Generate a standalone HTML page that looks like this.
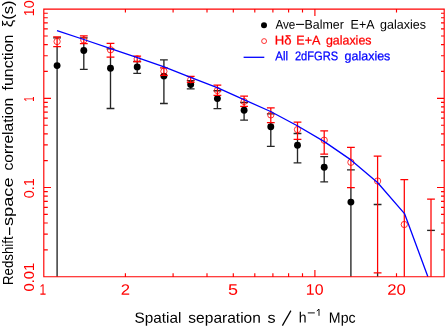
<!DOCTYPE html><html><head><meta charset="utf-8"><style>html,body{margin:0;padding:0;background:#fff}svg{display:block;will-change:transform}text{font-family:"Liberation Sans",sans-serif}</style></head><body>
<svg width="446" height="327" viewBox="0 0 446 327">
<rect width="446" height="327" fill="#fff"/>
<path d="M57.1 46.7V276.7M53.2 37.9H61.0" stroke="#262626" stroke-width="1.35" fill="none"/>
<circle cx="57.1" cy="65.6" r="3.45" fill="#000"/>
<path d="M83.8 43.6V69.4M79.9 37.9H87.7M79.9 69.4H87.7" stroke="#262626" stroke-width="1.35" fill="none"/>
<circle cx="83.8" cy="50.5" r="3.45" fill="#000"/>
<path d="M110.5 57.1V108.5M106.6 48.8H114.4M106.6 108.5H114.4" stroke="#262626" stroke-width="1.35" fill="none"/>
<circle cx="110.5" cy="68.2" r="3.45" fill="#000"/>
<path d="M137.2 61.6V73.4M133.3 61.5H141.1M133.3 73.4H141.1" stroke="#262626" stroke-width="1.35" fill="none"/>
<circle cx="137.2" cy="66.9" r="3.45" fill="#000"/>
<path d="M163.9 59.8V67.9M163.9 75.4V103.5M160.0 59.8H167.8M160.0 103.5H167.8" stroke="#262626" stroke-width="1.35" fill="none"/>
<circle cx="163.9" cy="76.1" r="3.45" fill="#000"/>
<path d="M190.7 82.3V88.8M186.8 80.6H194.6M186.8 88.8H194.6" stroke="#262626" stroke-width="1.35" fill="none"/>
<circle cx="190.7" cy="84.5" r="3.45" fill="#000"/>
<path d="M217.4 95.4V108.6M213.5 90.7H221.3M213.5 108.6H221.3" stroke="#262626" stroke-width="1.35" fill="none"/>
<circle cx="217.4" cy="98.6" r="3.45" fill="#000"/>
<path d="M244.1 106.4V120.1M240.2 102.5H248.0M240.2 120.1H248.0" stroke="#262626" stroke-width="1.35" fill="none"/>
<circle cx="244.1" cy="110.3" r="3.45" fill="#000"/>
<path d="M270.8 122.7V146.3M266.9 113.9H274.7M266.9 146.3H274.7" stroke="#262626" stroke-width="1.35" fill="none"/>
<circle cx="270.8" cy="126.8" r="3.45" fill="#000"/>
<path d="M297.5 139.3V162.8M293.6 133.5H301.4M293.6 162.8H301.4" stroke="#262626" stroke-width="1.35" fill="none"/>
<circle cx="297.5" cy="145.3" r="3.45" fill="#000"/>
<path d="M324.2 156.6V181.8M320.3 156.6H328.1M320.3 181.8H328.1" stroke="#262626" stroke-width="1.35" fill="none"/>
<circle cx="324.2" cy="167.3" r="3.45" fill="#000"/>
<path d="M350.9 187.7V276.7M347.0 169.8H354.8" stroke="#262626" stroke-width="1.35" fill="none"/>
<circle cx="350.9" cy="202.1" r="3.45" fill="#000"/>
<path d="M377.6 272.9V276.7M373.7 204.5H381.5" stroke="#262626" stroke-width="1.35" fill="none"/>
<path d="M427.1 230.4H434.9" stroke="#262626" stroke-width="1.35" fill="none"/>
<path d="M57.1 36.9V46.7M53.2 36.9H61.0M53.2 46.7H61.0" stroke="#f00" stroke-width="1.25" fill="none"/>
<circle cx="57.1" cy="41.5" r="3.15" fill="none" stroke="#f00" stroke-width="0.8"/>
<path d="M83.8 35.9V43.6M79.9 35.9H87.7M79.9 43.6H87.7" stroke="#f00" stroke-width="1.25" fill="none"/>
<circle cx="83.8" cy="40.0" r="3.15" fill="none" stroke="#f00" stroke-width="0.8"/>
<path d="M110.5 43.3V57.1M106.6 43.3H114.4M106.6 57.1H114.4" stroke="#f00" stroke-width="1.25" fill="none"/>
<circle cx="110.5" cy="49.8" r="3.15" fill="none" stroke="#f00" stroke-width="0.8"/>
<path d="M137.2 56.1V61.6M133.3 56.1H141.1M133.3 61.6H141.1" stroke="#f00" stroke-width="1.25" fill="none"/>
<circle cx="137.2" cy="58.9" r="3.15" fill="none" stroke="#f00" stroke-width="0.8"/>
<path d="M163.9 67.9V75.4M160.0 67.9H167.8M160.0 75.4H167.8" stroke="#f00" stroke-width="1.25" fill="none"/>
<circle cx="163.9" cy="71.3" r="3.15" fill="none" stroke="#f00" stroke-width="0.8"/>
<path d="M190.7 76.4V82.3M186.8 76.4H194.6M186.8 82.3H194.6" stroke="#f00" stroke-width="1.25" fill="none"/>
<circle cx="190.7" cy="79.8" r="3.15" fill="none" stroke="#f00" stroke-width="0.8"/>
<path d="M217.4 85.2V95.4M213.5 85.2H221.3M213.5 95.4H221.3" stroke="#f00" stroke-width="1.25" fill="none"/>
<circle cx="217.4" cy="90.5" r="3.15" fill="none" stroke="#f00" stroke-width="0.8"/>
<path d="M244.1 96.2V106.4M240.2 96.2H248.0M240.2 106.4H248.0" stroke="#f00" stroke-width="1.25" fill="none"/>
<circle cx="244.1" cy="101.5" r="3.15" fill="none" stroke="#f00" stroke-width="0.8"/>
<path d="M270.8 107.9V122.7M266.9 107.9H274.7M266.9 122.7H274.7" stroke="#f00" stroke-width="1.25" fill="none"/>
<circle cx="270.8" cy="114.9" r="3.15" fill="none" stroke="#f00" stroke-width="0.8"/>
<path d="M297.5 122.2V139.3M293.6 122.2H301.4M293.6 139.3H301.4" stroke="#f00" stroke-width="1.25" fill="none"/>
<circle cx="297.5" cy="129.6" r="3.15" fill="none" stroke="#f00" stroke-width="0.8"/>
<path d="M324.2 130.8V154.1M320.3 130.8H328.1M320.3 154.1H328.1" stroke="#f00" stroke-width="1.25" fill="none"/>
<circle cx="324.2" cy="140.2" r="3.15" fill="none" stroke="#f00" stroke-width="0.8"/>
<path d="M350.9 147.3V187.7M347.0 147.3H354.8M347.0 187.7H354.8" stroke="#f00" stroke-width="1.25" fill="none"/>
<circle cx="350.9" cy="162.3" r="3.15" fill="none" stroke="#f00" stroke-width="0.8"/>
<path d="M377.6 156.0V272.9M373.7 156.0H381.5M373.7 272.9H381.5" stroke="#f00" stroke-width="1.25" fill="none"/>
<circle cx="377.6" cy="181.0" r="3.15" fill="none" stroke="#f00" stroke-width="0.8"/>
<path d="M404.3 179.6V276.7M400.4 179.6H408.2" stroke="#f00" stroke-width="1.25" fill="none"/>
<circle cx="404.3" cy="224.5" r="3.15" fill="none" stroke="#f00" stroke-width="0.8"/>
<path d="M431.0 199.1V276.7M427.1 199.1H434.9" stroke="#f00" stroke-width="1.25" fill="none"/>
<polyline points="57.0,30.7 83.8,39.5 110.7,48.7 137.4,57.7 164.1,66.8 190.6,77.3 217.2,87.7 243.9,99.6 270.6,111.5 297.3,125.7 324.3,141.6 350.9,159.9 377.5,182.5 404.5,213.6 427.9,276.7" fill="none" stroke="#00f" stroke-width="1.3" stroke-linejoin="round"/>
<circle cx="264" cy="25.15" r="3.0" fill="#000"/>
<circle cx="264.1" cy="41.1" r="2.45" fill="none" stroke="#f00" stroke-width="0.8"/>
<path d="M243.6 57.3H264.3" stroke="#00f" stroke-width="1.3"/>
<text transform="translate(275.39 28.70) rotate(-0.05)" font-size="12.6" fill="#000" textLength="20.02" lengthAdjust="spacingAndGlyphs">Ave</text>
<text transform="translate(304.47 28.70) rotate(-0.05)" font-size="12.6" fill="#000" textLength="39.30" lengthAdjust="spacingAndGlyphs">Balmer</text>
<text transform="translate(350.61 28.70) rotate(-0.05)" font-size="12.6" fill="#000" textLength="23.93" lengthAdjust="spacingAndGlyphs">E+A</text>
<text transform="translate(379.96 28.70) rotate(-0.05)" font-size="12.6" fill="#000" textLength="45.97" lengthAdjust="spacingAndGlyphs">galaxies</text>
<text transform="translate(274.67 44.50) rotate(-0.05)" font-size="12.6" fill="#f00" stroke="#f00" stroke-width="0.25" textLength="16.82" lengthAdjust="spacingAndGlyphs">Hδ</text>
<text transform="translate(296.33 44.50) rotate(-0.05)" font-size="12.6" fill="#f00" stroke="#f00" stroke-width="0.25" textLength="24.06" lengthAdjust="spacingAndGlyphs">E+A</text>
<text transform="translate(325.91 44.50) rotate(-0.05)" font-size="12.6" fill="#f00" stroke="#f00" stroke-width="0.25" textLength="45.61" lengthAdjust="spacingAndGlyphs">galaxies</text>
<text transform="translate(275.35 60.30) rotate(-0.05)" font-size="12.6" fill="#00f" stroke="#00f" stroke-width="0.25" textLength="12.84" lengthAdjust="spacingAndGlyphs">All</text>
<text transform="translate(294.90 60.30) rotate(-0.05)" font-size="12.6" fill="#00f" stroke="#00f" stroke-width="0.25" textLength="43.24" lengthAdjust="spacingAndGlyphs">2dFGRS</text>
<text transform="translate(344.58 60.30) rotate(-0.05)" font-size="12.6" fill="#00f" stroke="#00f" stroke-width="0.25" textLength="45.78" lengthAdjust="spacingAndGlyphs">galaxies</text>
<text transform="translate(134.45 322.70) rotate(-0.05)" font-size="14.8" fill="#000" textLength="46.92" lengthAdjust="spacingAndGlyphs">Spatial</text>
<text transform="translate(188.36 322.70) rotate(-0.05)" font-size="14.8" fill="#000" textLength="72.53" lengthAdjust="spacingAndGlyphs">separation</text>
<text transform="translate(267.43 322.70) rotate(-0.05)" font-size="14.8" fill="#000" textLength="8.11" lengthAdjust="spacingAndGlyphs">s</text>
<text transform="translate(298.84 322.60) rotate(-0.05)" font-size="14.8" fill="#000" textLength="7.84" lengthAdjust="spacingAndGlyphs">h</text>
<text transform="translate(328.85 322.70) rotate(-0.05)" font-size="14.8" fill="#000" textLength="26.77" lengthAdjust="spacingAndGlyphs">Mpc</text>
<text transform="translate(13.2 285.00) rotate(-90)" font-size="14.8" fill="#000" textLength="48.57" lengthAdjust="spacingAndGlyphs">Redshift</text>
<text transform="translate(13.2 226.04) rotate(-90)" font-size="14.8" fill="#000" textLength="48.69" lengthAdjust="spacingAndGlyphs">space</text>
<text transform="translate(13.2 170.42) rotate(-90)" font-size="14.8" fill="#000" textLength="72.66" lengthAdjust="spacingAndGlyphs">correlation</text>
<text transform="translate(13.2 90.51) rotate(-90)" font-size="14.8" fill="#000" textLength="55.91" lengthAdjust="spacingAndGlyphs">function</text>
<text transform="translate(13.2 27.21) rotate(-90)" font-size="14.8" fill="#000" textLength="26.87" lengthAdjust="spacingAndGlyphs">ξ(s)</text>
<text transform="translate(39.57 294.80) rotate(-0.05)" font-size="15.2" fill="#f00" textLength="6.70" lengthAdjust="spacingAndGlyphs">1</text>
<text transform="translate(120.87 294.80) rotate(-0.05)" font-size="15.2" fill="#f00" textLength="9.34" lengthAdjust="spacingAndGlyphs">2</text>
<text transform="translate(228.10 294.80) rotate(-0.05)" font-size="15.2" fill="#f00" textLength="10.04" lengthAdjust="spacingAndGlyphs">5</text>
<text transform="translate(305.81 294.80) rotate(-0.05)" font-size="15.2" fill="#f00" textLength="17.67" lengthAdjust="spacingAndGlyphs">10</text>
<text transform="translate(387.25 294.80) rotate(-0.05)" font-size="15.2" fill="#f00" textLength="18.73" lengthAdjust="spacingAndGlyphs">20</text>
<text transform="translate(34.3 16.30) rotate(-90)" font-size="14.6" fill="#f00" textLength="15.91" lengthAdjust="spacingAndGlyphs">10</text>
<text transform="translate(34.3 101.85) rotate(-90)" font-size="14.6" fill="#f00" textLength="5.34" lengthAdjust="spacingAndGlyphs">1</text>
<text transform="translate(34.3 198.26) rotate(-90)" font-size="14.6" fill="#f00" textLength="20.03" lengthAdjust="spacingAndGlyphs">0.1</text>
<text transform="translate(34.3 291.52) rotate(-90)" font-size="14.6" fill="#f00" textLength="28.71" lengthAdjust="spacingAndGlyphs">0.01</text>
<path d="M43.8 9.1H444.2V276.7H43.8ZM125.4 276.7v-3.4M125.4 9.1v3.4M173.1 276.7v-3.4M173.1 9.1v3.4M207.0 276.7v-3.4M207.0 9.1v3.4M233.3 276.7v-3.4M233.3 9.1v3.4M254.8 276.7v-3.4M254.8 9.1v3.4M272.9 276.7v-3.4M272.9 9.1v3.4M288.6 276.7v-3.4M288.6 9.1v3.4M302.5 276.7v-3.4M302.5 9.1v3.4M314.9 276.7v-6.8M314.9 9.1v6.8M396.5 276.7v-3.4M396.5 9.1v3.4M444.2 276.7v-3.4M444.2 9.1v3.4M43.8 249.8h4.0M444.2 249.8h-3.2M43.8 234.1h4.0M444.2 234.1h-3.2M43.8 223.0h4.0M444.2 223.0h-3.2M43.8 214.4h4.0M444.2 214.4h-3.2M43.8 207.3h4.0M444.2 207.3h-3.2M43.8 201.3h4.0M444.2 201.3h-3.2M43.8 196.1h4.0M444.2 196.1h-3.2M43.8 191.6h4.0M444.2 191.6h-3.2M43.8 187.5h7.2M444.2 187.5h-7.2M43.8 160.6h4.0M444.2 160.6h-3.2M43.8 144.9h4.0M444.2 144.9h-3.2M43.8 133.8h4.0M444.2 133.8h-3.2M43.8 125.2h4.0M444.2 125.2h-3.2M43.8 118.1h4.0M444.2 118.1h-3.2M43.8 112.1h4.0M444.2 112.1h-3.2M43.8 106.9h4.0M444.2 106.9h-3.2M43.8 102.4h4.0M444.2 102.4h-3.2M43.8 98.3h7.2M444.2 98.3h-7.2M43.8 71.4h4.0M444.2 71.4h-3.2M43.8 55.7h4.0M444.2 55.7h-3.2M43.8 44.6h4.0M444.2 44.6h-3.2M43.8 36.0h4.0M444.2 36.0h-3.2M43.8 28.9h4.0M444.2 28.9h-3.2M43.8 22.9h4.0M444.2 22.9h-3.2M43.8 17.7h4.0M444.2 17.7h-3.2M43.8 13.2h4.0M444.2 13.2h-3.2" stroke="#f00" stroke-width="1.15" fill="none"/>
<path d="M296.0 24.4H304.1" stroke="#000" stroke-width="1.05" fill="none"/>
<path d="M9.6 234.9V227.3" stroke="#000" stroke-width="1.2" fill="none"/><path d="M307.8 312.9H314.8M316.8 311.0L319.0 309.1V315.8" stroke="#000" stroke-width="0.95" fill="none"/>
<path d="M290.9 310.6L282.4 325.6" stroke="#000" stroke-width="1.25" fill="none"/>
</svg></body></html>
